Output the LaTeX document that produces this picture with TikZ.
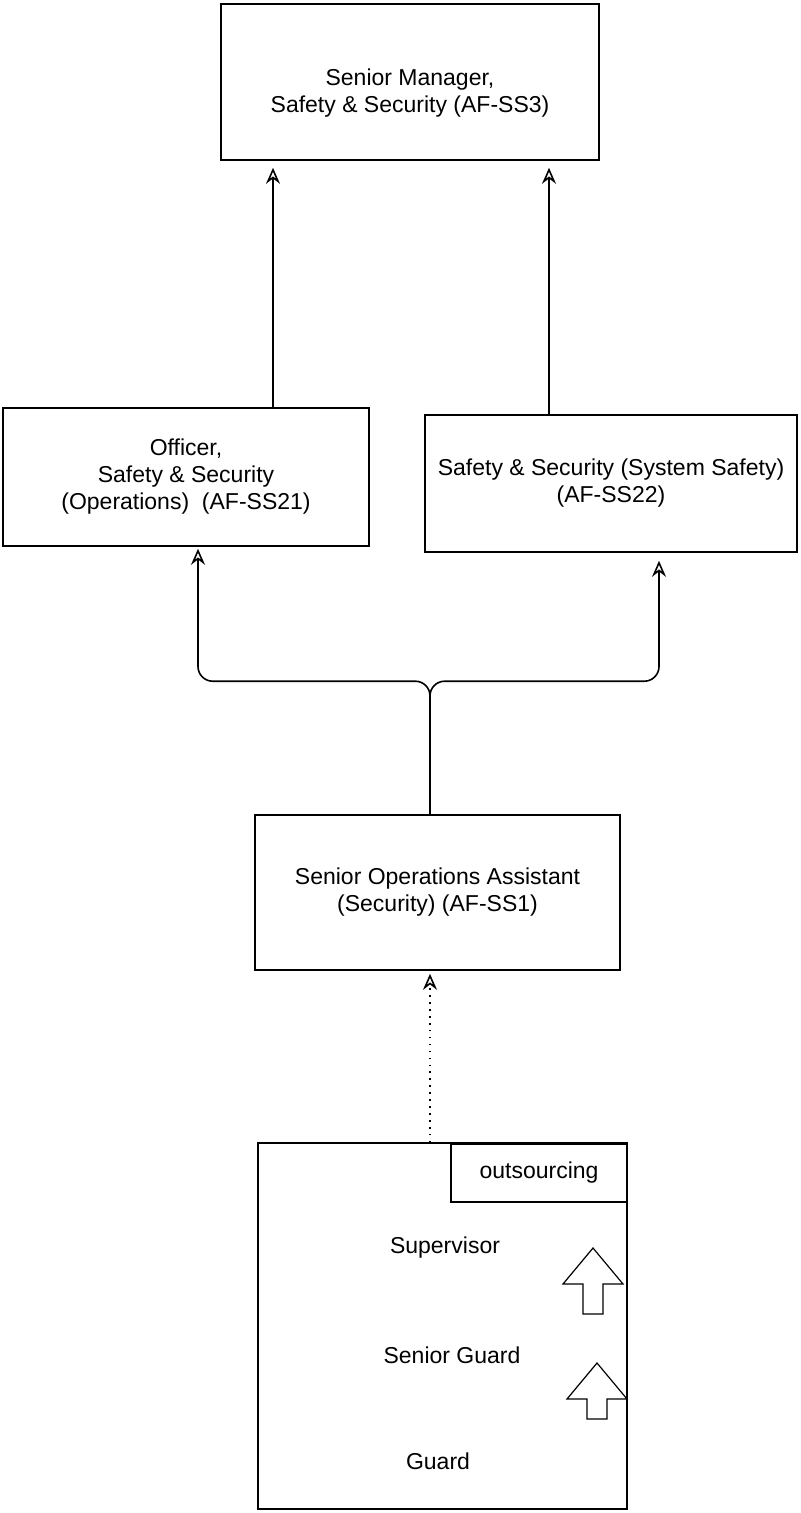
\documentclass[tikz,border=0pt]{standalone}
\usepackage{fontspec}
\setmainfont{Liberation Sans}
\usetikzlibrary{arrows.meta,calc}
\tikzstyle{role} = [rectangle, draw=black, line width=1.2pt, inner sep=0pt, align=center, font=\fontsize{17.25pt}{20.25pt}\selectfont]
\tikzstyle{clean} = [inner sep=0pt, align=center, font=\fontsize{17.25pt}{20.25pt}\selectfont]
\tikzstyle{link} = [line width=1.2pt, -{Stealth[open, length=12pt, width=10.5pt, inset=4pt]}]

\begin{document}
\begin{tikzpicture}[x=0.75pt, y=-0.75pt]
\useasboundingbox (0,0) rectangle (800,1513);

\node (manager) [role, minimum width=283.5pt, minimum height=117pt, label={[clean, yshift=-8.25pt]center:Senior Manager,\\Safety \& Security (AF-SS3)}] at (410,82) {};
\node (officer) [role, minimum width=274.5pt, minimum height=103.5pt] at (186,477) {Officer,\\Safety \& Security\\(Operations)~ (AF-SS21)};
\node (system) [role, minimum width=279pt, minimum height=102.75pt] at (611,483.5) {Safety \& Security (System Safety)\\(AF-SS22)};
\node (ops) [role, minimum width=273.75pt, minimum height=116.25pt] at (437.5,892.5) {Senior Operations Assistant\\(Security) (AF-SS1)};
\node (team) [role, line width=0.9pt, minimum width=276.75pt, minimum height=274.5pt] at (442.5,1326) {};
\node (outsrc) [role, minimum width=132pt, minimum height=43.5pt] at (539,1173) {outsourcing};
\node (supervisor) [clean] at (445,1248) {Supervisor};
\node (senior) [clean] at (452,1355) {Senior Guard};
\node (guard) [clean] at (438,1461) {Guard};

% promotion arrows
\foreach \tx/\ty/\len in {593/1248/66, 597/1363/56}
  \draw [line width=0.9pt] (\tx,\ty) -- (\tx+30,\ty+36) -- (\tx+10,\ty+36) -- (\tx+10,\ty+\len) -- (\tx-10,\ty+\len) -- (\tx-10,\ty+36) -- (\tx-30,\ty+36) -- cycle;

\draw [link] ($(officer.north)+(87,0)$) -- ($(manager.south)+(-137,7)$);
\draw [link] ($(system.north)+(-62,0)$) -- ($(manager.south)+(139,7)$);
\coordinate (split) at ($(ops.north)+(-7.5,-133)$);
\draw [link, rounded corners=11pt] ($(ops.north)+(-7.5,0)$) -- (split) -| ($(officer.south)+(12,2)$);
\draw [link, rounded corners=11pt] ($(ops.north)+(-7.5,0)$) -- (split) -| ($(system.south)+(48,8)$);
\draw [link, dash pattern=on 1.2pt off 4pt] ($(team.north)+(-12.5,0)$) -- ($(ops.south)+(-7.5,3)$);

\end{tikzpicture}
\end{document}
